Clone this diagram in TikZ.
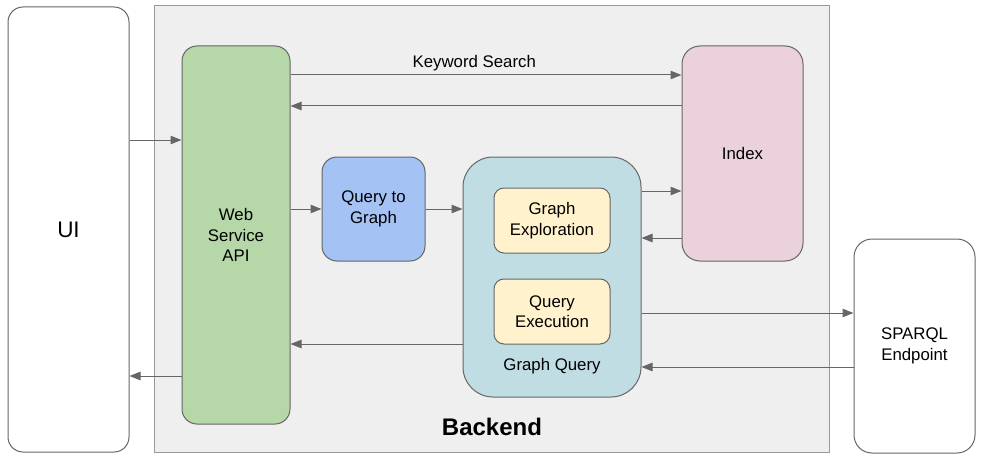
\documentclass[tikz,border=0pt]{standalone}
\usepackage{fontspec}
\setmainfont{Liberation Sans}
\usetikzlibrary{arrows.meta}
\definecolor{linegray}{HTML}{666666}
\definecolor{backfill}{HTML}{EFEFEF}
\definecolor{backline}{HTML}{999999}
\definecolor{apigreen}{HTML}{B6D7A8}
\definecolor{qblue}{HTML}{A4C2F4}
\definecolor{gqcyan}{RGB}{193,221,228}
\definecolor{subyellow}{HTML}{FFF2CC}
\definecolor{idxpink}{HTML}{EAD1DC}
\tikzset{
  box/.style={draw=linegray, line width=1pt, rounded corners=15pt, align=center, inner sep=0pt,
    font=\fontsize{16.8}{20.5}\selectfont},
  arr/.style={-{Triangle[length=11pt,width=8.5pt]}, draw=linegray, line width=1pt},
}
\begin{document}
\begin{tikzpicture}[x=1pt, y=-1pt]
  \useasboundingbox (0,0) rectangle (986,460);
  % backend container
  \node[draw=backline, fill=backfill, line width=1pt, minimum width=675pt, minimum height=446pt] (backend) at (491.5,229) {};
  \node[font=\fontsize{24}{27}\selectfont\bfseries] (backendlabel) at (492,427) {Backend};
  % outside boxes
  \node[box, fill=white, minimum width=121pt, minimum height=445pt, font=\fontsize{22.5}{26}\selectfont] (ui) at (68.5,229.5) {UI};
  \node[box, fill=white, minimum width=121pt, minimum height=214pt, rounded corners=18pt] (sparql) at (914.5,346) {SPARQL\\Endpoint};
  % inside boxes
  \node[box, fill=apigreen, minimum width=108pt, minimum height=378pt] (wsa) at (236,235) {Web\\Service\\API};
  \node[box, fill=qblue, minimum width=103pt, minimum height=104pt] (q2g) at (373.5,209) {Query to\\Graph};
  \node[box, fill=gqcyan, minimum width=178pt, minimum height=240pt, rounded corners=30pt] (gq) at (552,277) {};
  \node[font=\fontsize{16.8}{20.5}\selectfont] (gqlabel) at (552,366) {Graph Query};
  \node[box, fill=subyellow, minimum width=116pt, minimum height=65pt, rounded corners=10pt] (gexp) at (552,220.5) {Graph\\Exploration};
  \node[box, fill=subyellow, minimum width=116pt, minimum height=65pt, rounded corners=10pt] (qexec) at (552,311.5) {Query\\Execution};
  \node[box, fill=idxpink, minimum width=121pt, minimum height=215pt, rounded corners=18pt] (index) at (742.5,153.5) {Index};
  % connectors
  \draw[arr] (ui.east |- 0,140) -- (wsa.west |- 0,140);
  \draw[arr] (wsa.west |- 0,376) -- (ui.east |- 0,376);
  \draw[arr] (wsa.east |- 0,75) -- node[above, pos=0.47, font=\fontsize{16.8}{20.5}\selectfont] {Keyword Search} (index.west |- 0,75);
  \draw[arr] (index.west |- 0,106) -- (wsa.east |- 0,106);
  \draw[arr] (wsa.east |- q2g.west) -- (q2g.west);
  \draw[arr] (q2g.east) -- (gq.west |- q2g.east);
  \draw[arr] (gq.east |- 0,191) -- (index.west |- 0,191);
  \draw[arr] (index.west |- 0,238) -- (gq.east |- 0,238);
  \draw[arr] (gq.west |- 0,344) -- (wsa.east |- 0,344);
  \draw[arr] (gq.east |- 0,313) -- (sparql.west |- 0,313);
  \draw[arr] (sparql.west |- 0,367) -- (gq.east |- 0,367);
\end{tikzpicture}
\end{document}
